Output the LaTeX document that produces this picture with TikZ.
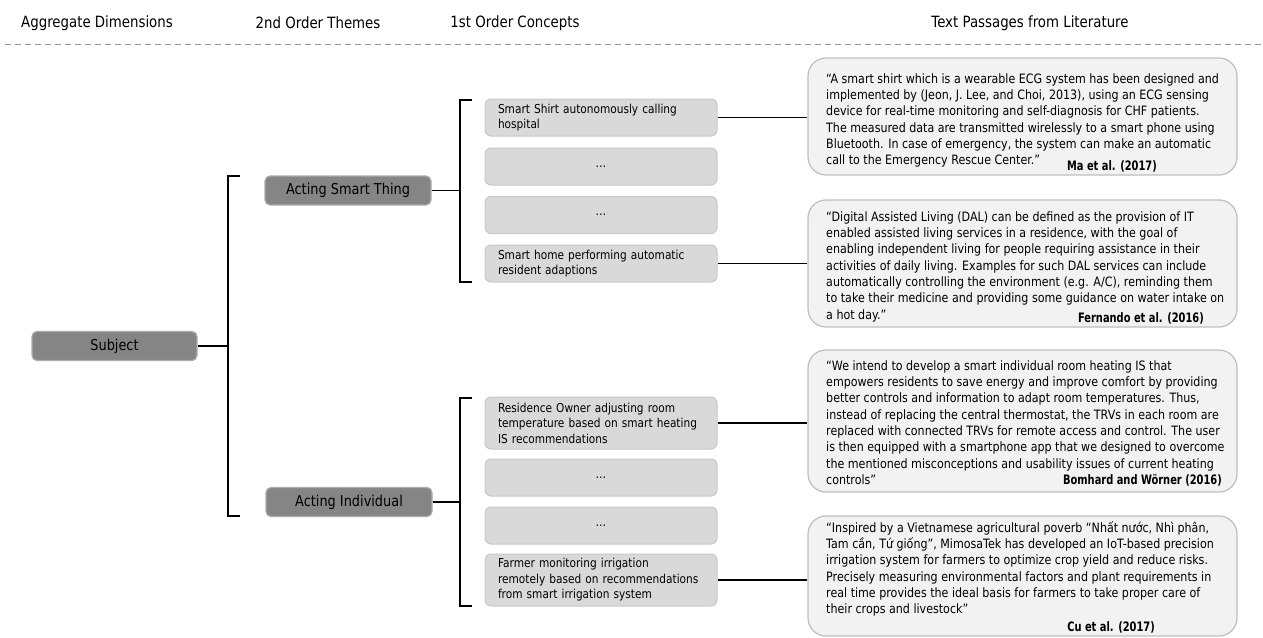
\documentclass[tikz,border=0pt]{standalone}
\usepackage{fontspec}
\setmainfont{DejaVu Sans}[FakeStretch=0.86]
\newfontfamily\citefont{DejaVu Sans Bold}[FakeStretch=0.76]
\hyphenpenalty=10000
\exhyphenpenalty=10000

\definecolor{themefill}{RGB}{133,133,133}
\definecolor{themeline}{RGB}{172,172,172}
\definecolor{conceptfill}{RGB}{217,217,217}
\definecolor{conceptline}{RGB}{200,200,200}
\definecolor{quotefill}{RGB}{242,242,242}
\definecolor{quoteline}{RGB}{190,190,190}
\definecolor{rulegray}{RGB}{150,150,150}

\tikzset{
  header/.style={font=\fontsize{15.5}{18}\selectfont, inner sep=0pt},
  theme/.style={draw=themeline, line width=1.2pt, fill=themefill, rounded corners=5pt,
    font=\fontsize{15}{18}\selectfont, inner sep=0pt, minimum height=29pt},
  concept/.style={draw=conceptline, line width=1pt, fill=conceptfill, rounded corners=6pt,
    font=\fontsize{12.3}{15.5}\selectfont, text width=206pt,
    inner xsep=13pt, inner ysep=0pt, minimum height=37pt, align=left},
  gap/.style={concept, align=center},
  quotebox/.style={draw=quoteline, line width=1.2pt, fill=quotefill, rounded corners=18pt,
    minimum width=429pt, inner sep=0pt},
  qtext/.style={font=\fontsize{12.9}{16.3}\selectfont, align=left, inner sep=0pt, anchor=north west},
  cite/.style={font=\citefont\fontsize{13}{16}\selectfont, inner sep=0pt, anchor=base east},
  link/.style={line width=1.2pt, black},
}
\newcommand{\firstline}{\rule{0pt}{11pt}}

\begin{document}
\begin{tikzpicture}[x=1pt, y=-1pt]
\useasboundingbox (0,0) rectangle (1263,637);

% column headings and rule
\node[header] (h1) at (97,23) {Aggregate Dimensions};
\node[header] (h2) at (318,23) {2nd Order Themes};
\node[header] (h3) at (515,23) {1st Order Concepts};
\node[header] (h4) at (1030,23) {Text Passages from Literature};
\draw[rulegray, line width=1pt, dash pattern=on 6pt off 4pt] (5,44) -- (1263,44);

% aggregate dimension and themes
\node[theme, minimum width=165pt] (subj) at (114.5,346) {Subject};
\node[theme, minimum width=166pt] (ast) at (348,190.5) {Acting Smart Thing};
\node[theme, minimum width=166pt] (ai) at (349,502) {Acting Individual};

% brackets
\coordinate (b1t) at (228,176);  \coordinate (b1b) at (228,516);
\coordinate (b2t) at (460,100);  \coordinate (b2b) at (460,282);
\coordinate (b3t) at (460,398);  \coordinate (b3b) at (460,606);
\foreach \t/\b in {b1t/b1b, b2t/b2b, b3t/b3b}
  \draw[link] ([xshift=12pt]\t) -- (\t) -- (\b) -- ([xshift=12pt]\b);
\draw[link] (subj.east) -- (subj.east -| b1t);
\draw[link] (ast.east) -- (ast.east -| b2t);
\draw[link] (ai.east) -- (ai.east -| b3t);

% first order concepts
\node[concept] (c1) at (601,117.5) {Smart Shirt autonomously calling\\hospital};
\node[gap] (c2) at (601,166.5) {…};
\node[gap] (c3) at (601,215) {…};
\node[concept] (c4) at (601,263.5) {Smart home performing automatic\\resident adaptions};
\node[concept, minimum height=52pt] (c5) at (601,423) {Residence Owner adjusting room\\temperature based on smart heating\\IS recommendations};
\node[gap] (c6) at (601,477.5) {…};
\node[gap] (c7) at (601,525.5) {…};
\node[concept, minimum height=52pt] (c8) at (601,580) {Farmer monitoring irrigation\\remotely based on recommendations\\from smart irrigation system};

% literature passages
\node[quotebox, minimum height=117pt] (q1) at (1022.5,116.5) {};
\node[quotebox, minimum height=127pt] (q2) at (1022.5,263.5) {};
\node[quotebox, minimum height=142pt] (q3) at (1022.5,421) {};
\node[quotebox, minimum height=120pt] (q4) at (1022.5,576) {};

\draw[link] (c1.east) -- (c1.east -| q1.west);
\draw[link] (c4.east) -- (c4.east -| q2.west);
\draw[link] (c5.east) -- (c5.east -| q3.west);
\draw[link] (c8.east) -- (c8.east -| q4.west);

\node[qtext] (t1) at (826,72) {\firstline“A smart shirt which is a wearable ECG system has been designed and\\
implemented by (Jeon, J. Lee, and Choi, 2013), using an ECG sensing\\
device for real-time monitoring and self-diagnosis for CHF patients.\\
The measured data are transmitted wirelessly to a smart phone using\\
Bluetooth. In case of emergency, the system can make an automatic\\
call to the Emergency Rescue Center.”};
\node[cite] (r1) at (1157,170) {Ma et al. (2017)};

\node[qtext] (t2) at (826,210) {\firstline“Digital Assisted Living (DAL) can be defined as the provision of IT\\
enabled assisted living services in a residence, with the goal of\\
enabling independent living for people requiring assistance in their\\
activities of daily living. Examples for such DAL services can include\\
automatically controlling the environment (e.g. A/C), reminding them\\
to take their medicine and providing some guidance on water intake on\\
a hot day.”};
\node[cite] (r2) at (1204,322) {Fernando et al. (2016)};

\node[qtext] (t3) at (826,359) {\firstline“We intend to develop a smart individual room heating IS that\\
empowers residents to save energy and improve comfort by providing\\
better controls and information to adapt room temperatures. Thus,\\
instead of replacing the central thermostat, the TRVs in each room are\\
replaced with connected TRVs for remote access and control. The user\\
is then equipped with a smartphone app that we designed to overcome\\
the mentioned misconceptions and usability issues of current heating\\
controls”};
\node[cite] (r3) at (1222,484) {Bomhard and Wörner (2016)};

\node[qtext] (t4) at (826,521) {\firstline“Inspired by a Vietnamese agricultural poverb “Nhất nước, Nhì phân,\\
Tam cần, Tứ giống”, MimosaTek has developed an IoT-based precision\\
irrigation system for farmers to optimize crop yield and reduce risks.\\
Precisely measuring environmental factors and plant requirements in\\
real time provides the ideal basis for farmers to take proper care of\\
their crops and livestock”};
\node[cite] (r4) at (1155,631) {Cu et al. (2017)};
\end{tikzpicture}
\end{document}
